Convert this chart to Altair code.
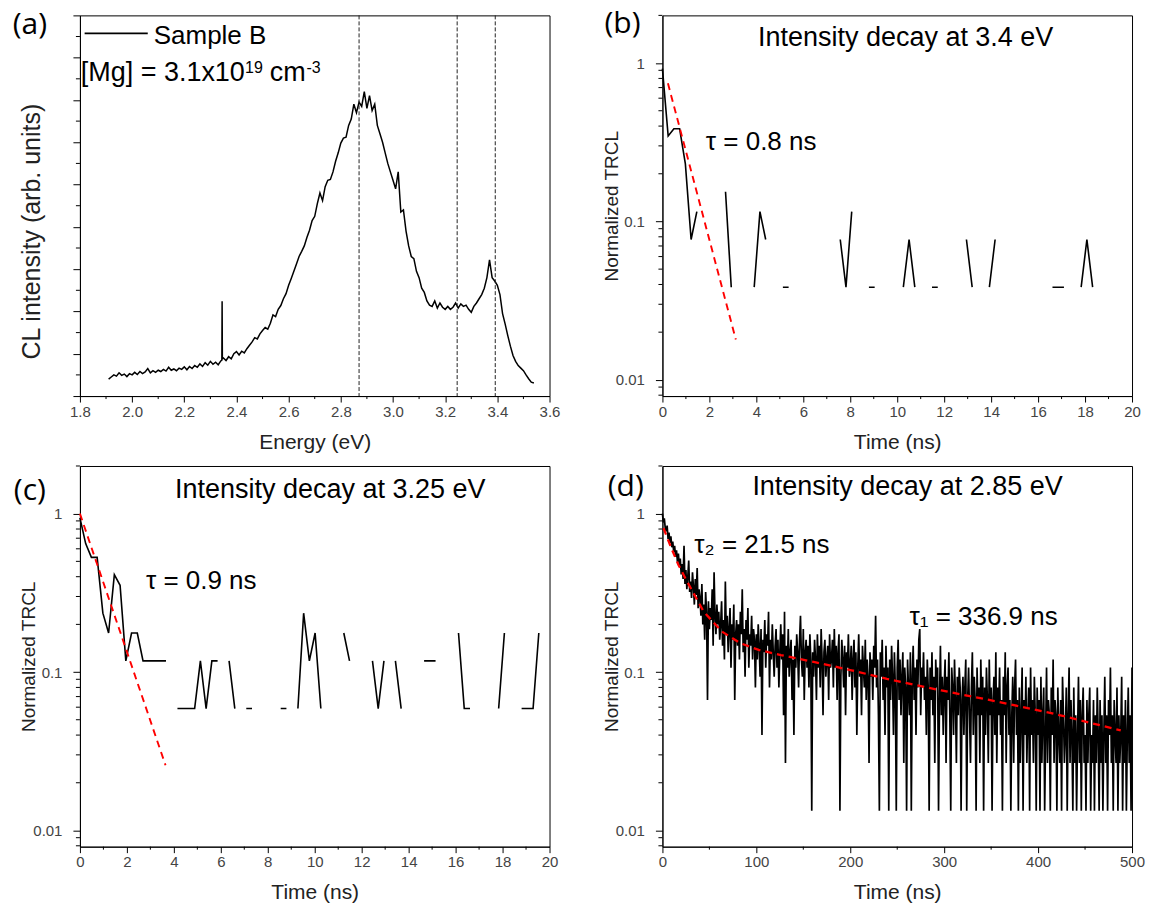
import altair as alt
import pandas as pd

W, H = 470, 381
FONT = "Liberation Sans, Arial, DejaVu Sans, sans-serif"
PANEL_FONT = "Open Sans, sans-serif"

# ---------------- (a) CL spectrum ----------------
energy_a = ([round(1.91 + 0.01 * i, 2) for i in range(44)] + [2.344, 2.345, 2.346]
            + [round(2.35 + 0.01 * i, 2) for i in range(120)])
intensity_a = [
    0.40, 0.45, 0.50, 0.47, 0.55, 0.49, 0.52, 0.46, 0.53, 0.50,
    0.56, 0.51, 0.58, 0.53, 0.57, 0.65, 0.55, 0.60, 0.56, 0.61,
    0.58, 0.63, 0.59, 0.68, 0.61, 0.64, 0.60, 0.66, 0.63, 0.69,
    0.62, 0.70, 0.65, 0.72, 0.68, 0.76, 0.70, 0.79, 0.73, 0.82,
    0.75, 0.80, 0.74, 0.83,
    0.85, 2.24, 0.88,
    0.90, 0.84, 0.93, 0.88, 1.00, 1.05, 0.97, 1.06, 1.02, 1.12,
    1.20, 1.28, 1.38, 1.35, 1.47, 1.55, 1.62, 1.58, 1.72, 1.92,
    1.88, 2.05, 2.14, 2.30, 2.42, 2.62, 2.78, 2.95, 3.12, 3.30,
    3.42, 3.55, 3.75, 3.92, 4.15, 4.25, 4.55, 4.80, 4.62, 4.95,
    5.10, 5.12, 5.30, 5.55, 5.75, 5.98, 6.10, 6.12, 6.40, 6.55,
    6.90, 6.70, 6.95, 6.85, 7.20, 6.80, 7.10, 6.75, 6.90, 6.40,
    6.20, 6.00, 5.75, 5.50, 5.30, 5.10, 4.90, 5.30, 4.35, 4.40,
    3.90, 3.55, 3.30, 3.25, 2.95, 2.80, 2.55, 2.45, 2.25, 2.15,
    2.12, 2.25, 2.08, 2.20, 2.10, 2.05, 2.12, 2.05, 2.10, 2.20,
    2.08, 2.18, 2.12, 2.15, 2.05, 1.98, 2.12, 2.20, 2.30, 2.40,
    2.55, 2.80, 3.22, 2.80, 2.72, 2.62, 2.40, 1.95, 1.70, 1.43,
    1.18, 0.96, 0.82, 0.72, 0.66, 0.60, 0.50, 0.41, 0.33, 0.31,
]
marker_energies = [2.870, 3.246, 3.392]
a_x_ticks = [1.8, 2.0, 2.2, 2.4, 2.6, 2.8, 3.0, 3.2, 3.4, 3.6]
a_x_minor = [1.9, 2.1, 2.3, 2.5, 2.7, 2.9, 3.1, 3.3, 3.5]
a_y_ticks = [0, 1, 2, 3, 4, 5, 6, 7, 8, 9]
a_y_minor = [0.5, 1.5, 2.5, 3.5, 4.5, 5.5, 6.5, 7.5, 8.5]

# ---------------- (b) decay at 3.4 eV (counts, zero = gap) ----------------
DT = 0.2443
b_counts = [24, 9, 10, 10, 6, 2, 3, 0, 0, 0, 0, 4, 1, 0, 0, 0, 1, 3, 2, 0,
            0, 1, 1, 0, 0, 0, 0, 0, 0, 0, 0, 2, 1, 3, 0, 0, 1, 1, 0, 0,
            0, 0, 1, 2, 1, 0, 0, 1, 1, 0, 0, 0, 0, 2, 1, 0, 0, 1, 2, 0,
            0, 0, 0, 0, 0, 0, 0, 0, 1, 1, 1, 0, 0, 1, 2, 1, 0, 0, 0, 0,
            0, 0]
B_NORM = 26
b_fit_t = [0.234, 3.125]
b_fit_v = [0.745, 0.018]

# ---------------- (c) decay at 3.25 eV ----------------
c_counts = [16, 11, 9, 9, 4, 3, 7, 6, 2, 3, 3, 2, 2, 2, 2, 2, 0, 1, 1, 1,
            1, 2, 1, 2, 2, 0, 2, 1, 0, 1, 1, 0, 0, 0, 0, 1, 1, 0, 1, 4,
            2, 3, 1, 0, 0, 0, 3, 2, 0, 0, 0, 2, 1, 2, 0, 2, 1, 0, 0, 0,
            2, 2, 2, 0, 0, 0, 3, 1, 1, 0, 0, 0, 0, 1, 3, 0, 0, 1, 1, 1,
            3, 0]
C_NORM = 17
c_fit_t = [0.0, 3.645]
c_fit_v = [1.0, 0.0258]

# ---------------- (d) decay at 2.85 eV (1 ns bins) ----------------
D_STEP = 1
d_counts = [
    75, 66, 70, 61, 58, 63, 52, 57, 49, 54, 46, 50, 43, 47, 40, 44, 37, 42, 35, 39,
    31, 36, 29, 47, 27, 33, 25, 30, 38, 24, 28, 22, 32, 26, 20, 29, 23, 34, 19, 25,
    22, 17, 27, 15, 20, 12, 24, 18, 5, 21, 14, 19, 16, 25, 11, 32, 17, 13, 20, 15,
    18, 12, 15, 21, 11, 16, 9, 28, 13, 17, 10, 14, 19, 8, 15, 12, 20, 5, 13, 16,
    11, 15, 9, 18, 13, 25, 10, 14, 7, 16, 12, 19, 8, 13, 11, 17, 9, 14, 12, 6,
    13, 9, 15, 11, 7, 14, 3, 12, 10, 16, 8, 13, 11, 18, 6, 12, 9, 15, 10, 7,
    11, 14, 8, 12, 6, 10, 15, 9, 13, 4, 18, 2, 11, 8, 14, 7, 10, 12, 5, 9,
    3, 11, 8, 13, 10, 6, 12, 17, 9, 7, 14, 5, 10, 12, 8, 11, 6, 13, 9, 1,
    10, 7, 12, 9, 5, 13, 8, 11, 6, 14, 9, 4, 10, 12, 7, 9, 11, 5, 13, 8,
    9, 12, 6, 14, 8, 11, 5, 10, 13, 1, 7, 12, 9, 6, 11, 4, 10, 8, 13, 7,
    8, 11, 5, 9, 12, 6, 10, 3, 8, 13, 7, 9, 4, 11, 8, 6, 12, 5, 9, 7,
    2, 10, 7, 9, 5, 11, 8, 17, 6, 9, 4, 1, 10, 7, 12, 5, 8, 3, 11, 6,
    8, 1, 9, 5, 11, 7, 3, 10, 6, 1, 8, 12, 5, 9, 4, 7, 10, 2, 8, 6,
    1, 9, 6, 4, 10, 1, 7, 11, 5, 8, 3, 9, 6, 12, 14, 4, 8, 6, 10, 5,
    7, 3, 9, 6, 1, 8, 5, 10, 4, 7, 2, 9, 6, 8, 1, 5, 11, 4, 7, 3,
    6, 9, 2, 7, 5, 10, 4, 1, 8, 6, 3, 9, 5, 2, 7, 4, 8, 6, 1, 5,
    7, 3, 6, 9, 1, 5, 8, 4, 2, 6, 10, 3, 7, 5, 1, 8, 4, 6, 2, 9,
    4, 7, 1, 6, 3, 8, 5, 2, 9, 4, 6, 1, 5, 7, 3, 10, 2, 6, 4, 8,
    3, 5, 1, 7, 4, 10, 2, 6, 8, 3, 5, 1, 4, 7, 2, 6, 9, 3, 5, 1,
    6, 2, 4, 8, 1, 5, 3, 7, 2, 4, 6, 1, 8, 3, 5, 2, 7, 4, 1, 6,
    3, 5, 1, 7, 2, 4, 6, 1, 3, 8, 2, 5, 4, 1, 6, 3, 9, 2, 5, 4,
    1, 6, 3, 2, 5, 1, 7, 4, 2, 3, 6, 1, 4, 8, 2, 5, 3, 1, 6, 2,
    4, 1, 3, 7, 2, 5, 1, 4, 6, 2, 3, 1, 5, 2, 4, 6, 1, 3, 2, 5,
    1, 4, 2, 6, 3, 1, 5, 2, 4, 1, 3, 7, 2, 4, 1, 5, 3, 8, 2, 4,
    1, 5, 3, 2, 6, 1, 4, 2, 3, 7, 1, 4, 2, 5, 1, 3, 6, 2, 4, 1,
    8,
]
D_NORM = 75
d_fit_t = [1.2, 5, 10, 17, 24.5, 44, 63.5, 83, 102.5, 126, 161, 200, 239, 297, 356, 414, 488]
d_fit_v = [0.81, 0.706, 0.596, 0.476, 0.390, 0.240, 0.180, 0.152, 0.138, 0.128, 0.116,
           0.103, 0.0906, 0.0765, 0.0652, 0.0551, 0.0428]

# ---------------- shared ticks ----------------
log_major = [0.01, 0.1, 1]
log_minor = [0.008, 0.009, 0.02, 0.03, 0.04, 0.05, 0.06, 0.07, 0.08, 0.09,
             0.2, 0.3, 0.4, 0.5, 0.6, 0.7, 0.8, 0.9, 2]
t20_ticks = [0, 2, 4, 6, 8, 10, 12, 14, 16, 18, 20]
t20_minor = [1, 3, 5, 7, 9, 11, 13, 15, 17, 19]
t500_ticks = [0, 100, 200, 300, 400, 500]
t500_minor = [50, 150, 250, 350, 450]


def x_axis(values, fmt, title):
    return alt.Axis(values=values, format=fmt, title=title, grid=False,
                    tickSize=6, tickWidth=1, tickColor="black",
                    domainColor="black", domainWidth=1,
                    labelFont=FONT, labelFontSize=15, labelColor="#444",
                    labelBaseline="alphabetic", labelPadding=14,
                    labelFlush=False, labelOverlap=False,
                    titleFont=FONT, titleFontSize=21, titleFontWeight="normal",
                    titleColor="#222", titleY=52, titleBaseline="alphabetic")


def log_axis(title):
    return alt.Axis(values=log_major, format="~g", title=title, grid=False,
                    tickSize=7, tickWidth=1, tickColor="black",
                    domainColor="black", domainWidth=1,
                    labelFont=FONT, labelFontSize=15, labelColor="#444",
                    labelPadding=11, labelFlush=False, labelOverlap=False,
                    titleFont=FONT, titleFontSize=19, titleFontWeight="normal",
                    titleColor="#222", titleX=-45, titleBaseline="alphabetic")


def minor_y(values, scale, axis):
    return alt.Chart(pd.DataFrame({"v": values})).mark_rule(color="black", strokeWidth=1).encode(
        y=alt.Y("v:Q", scale=scale, axis=axis), x=alt.value(0), x2=alt.value(-4))


def minor_x(values, scale, axis):
    return alt.Chart(pd.DataFrame({"v": values})).mark_rule(color="black", strokeWidth=1).encode(
        x=alt.X("v:Q", scale=scale, axis=axis), y=alt.value(H), y2=alt.value(H + 3))


def note(x, y, s, xs, ys, xax, yax, size=26, align="left"):
    return alt.Chart(pd.DataFrame({"x": [x], "y": [y], "t": [s]})).mark_text(
        align=align, baseline="alphabetic", font=FONT, fontSize=size, color="black"
    ).encode(x=alt.X("x:Q", scale=xs, axis=xax), y=alt.Y("y:Q", scale=ys, axis=yax), text="t:N")


def panel_label(s, px, py):
    return alt.Chart(pd.DataFrame({"t": [s]})).mark_text(
        align="left", baseline="alphabetic", font=PANEL_FONT, fontSize=30, color="black"
    ).encode(x=alt.value(px), y=alt.value(py), text="t:N")


def decay_df(counts, dt, norm):
    return pd.DataFrame({"t": [round(i * dt, 4) for i in range(len(counts))],
                         "v": [c / norm if c > 0 else None for c in counts]})


# ---------------- panel (a) ----------------
xa = alt.Scale(domain=[1.8, 3.6], nice=False, zero=False)
ya = alt.Scale(domain=[0, 9], nice=False, zero=False)
xax_a = x_axis(a_x_ticks, ".1f", "Energy (eV)")
yax_a = alt.Axis(values=a_y_ticks, labels=False, title="CL intensity (arb. units)", grid=False,
                 tickSize=7, tickWidth=1, tickColor="black", domainColor="black", domainWidth=1,
                 titleFont=FONT, titleFontSize=25, titleFontWeight="normal", titleColor="#222",
                 titleX=-40, titleY=216, titleBaseline="alphabetic")
df_a = pd.DataFrame({"E": energy_a, "I": intensity_a})
line_a = alt.Chart(df_a).mark_line(color="black", strokeWidth=1.5).encode(
    x=alt.X("E:Q", scale=xa, axis=xax_a),
    y=alt.Y("I:Q", scale=ya, axis=yax_a),
)
vlines = alt.Chart(pd.DataFrame({"E": marker_energies})).mark_rule(
    color="#222", strokeWidth=1, strokeDash=[4, 2]).encode(x=alt.X("E:Q", scale=xa, axis=xax_a))
legend_line = alt.Chart(pd.DataFrame({"x": [1.818], "x2": [2.060], "y": [8.575]})).mark_rule(
    color="black", strokeWidth=1.6).encode(
    x=alt.X("x:Q", scale=xa, axis=xax_a), x2="x2:Q", y=alt.Y("y:Q", scale=ya, axis=yax_a))
panel_a = alt.layer(
    line_a, vlines, minor_x(a_x_minor, xa, xax_a), minor_y(a_y_minor, ya, yax_a), legend_line,
    note(2.083, 8.32, "Sample B", xa, ya, xax_a, yax_a, 26),
    note(1.803, 7.44, "[Mg] = 3.1x10", xa, ya, xax_a, yax_a, 27),
    note(2.433, 7.63, "19", xa, ya, xax_a, yax_a, 16),
    note(2.528, 7.44, "cm", xa, ya, xax_a, yax_a, 27),
    note(2.668, 7.63, "-3", xa, ya, xax_a, yax_a, 16),
    panel_label("(a)", -67.3, 18.5),
).properties(width=W, height=H)

# ---------------- panels (b), (c), (d) ----------------
ylog = alt.Scale(type="log", domain=[0.0079, 2.0], nice=False)


def decay_panel(df, fit_t, fit_v, xs, xticks, xminor, title_pos, title, taus, plabel, lw, fit_w):
    xax = x_axis(xticks, "d", "Time (ns)")
    yax = log_axis("Normalized TRCL")
    data_line = alt.Chart(df).mark_line(color="black", strokeWidth=lw).encode(
        x=alt.X("t:Q", scale=xs, axis=xax),
        y=alt.Y("v:Q", scale=ylog, axis=yax),
    )
    fit_line = alt.Chart(pd.DataFrame({"t": fit_t, "v": fit_v})).mark_line(
        color="#ff0000", strokeWidth=fit_w, strokeDash=[7, 5]).encode(
        x=alt.X("t:Q", scale=xs, axis=xax), y=alt.Y("v:Q", scale=ylog, axis=yax))
    layers = [data_line, fit_line, minor_x(xminor, xs, xax), minor_y(log_minor, ylog, yax),
              note(title_pos[0], title_pos[1], title, xs, ylog, xax, yax, 27, "center")]
    for (tx, ty, s) in taus:
        layers.append(note(tx, ty, s, xs, ylog, xax, yax, 26))
    layers.append(panel_label(*plabel))
    return alt.layer(*layers).properties(width=W, height=H)


x20 = alt.Scale(domain=[0, 20], nice=False, zero=False)
x500 = alt.Scale(domain=[0, 500], nice=False, zero=False)

panel_b = decay_panel(decay_df(b_counts, DT, B_NORM), b_fit_t, b_fit_v, x20, t20_ticks, t20_minor,
                      (10.36, 1.285), "Intensity decay at 3.4 eV",
                      [(1.85, 0.281, "τ = 0.8 ns")], ("(b)", -58, 17.7), 1.6, 1.9)
panel_c = decay_panel(decay_df(c_counts, DT, C_NORM), c_fit_t, c_fit_v, x20, t20_ticks, t20_minor,
                      (10.66, 1.26), "Intensity decay at 3.25 eV",
                      [(2.81, 0.334, "τ = 0.9 ns")], ("(c)", -66.2, 33.7), 1.6, 1.9)
panel_d = decay_panel(decay_df(d_counts, D_STEP, D_NORM), d_fit_t, d_fit_v, x500, t500_ticks, t500_minor,
                      (261, 1.317), "Intensity decay at 2.85 eV",
                      [(34, 0.563, "τ₂ = 21.5 ns"), (263, 0.198, "τ₁ = 336.9 ns")],
                      ("(d)", -54.7, 29.7), 1.7, 2.3)

chart = alt.concat(panel_a, panel_b, panel_c, panel_d, columns=2,
                   spacing={"row": 70, "column": 113}, bounds="flush").properties(
    padding={"left": 12, "top": 8, "right": 5, "bottom": 5}, background="white"
).configure_view(stroke="black", strokeWidth=1)

chart.save("out.html", embed_options={"renderer": "svg", "actions": False})
